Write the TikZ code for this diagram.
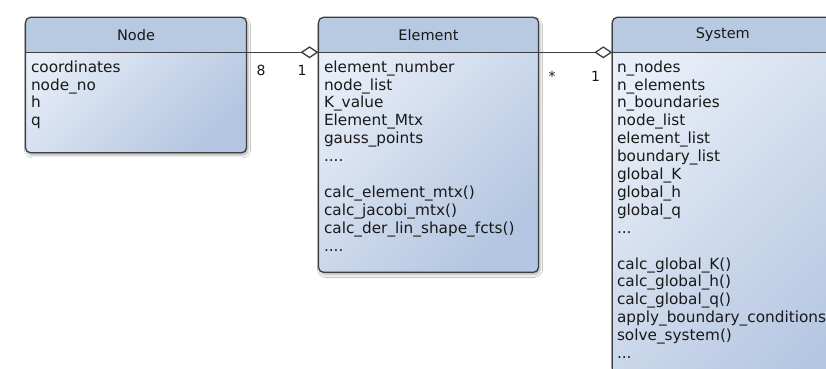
\documentclass[tikz,border=0pt]{standalone}
\usepackage{fontspec}
\setmainfont{DejaVu Sans}
\usetikzlibrary{arrows.meta,shadows.blur}
\definecolor{hdr}{RGB}{184,201,226}
\definecolor{bodyA}{RGB}{232,238,247}
\definecolor{bodyB}{RGB}{180,198,225}
\definecolor{edgec}{RGB}{62,62,62}
\definecolor{txt}{RGB}{25,25,25}
\tikzset{
  classbox/.style={line width=1.3pt, rounded corners=5pt, inner sep=0pt, outer sep=0pt,
    anchor=north west, top color=bodyA, bottom color=bodyB, shading angle=45,
    blur shadow={shadow xshift=1.5pt, shadow yshift=-2.5pt, shadow opacity=30, shadow blur steps=6, shadow blur radius=2.5pt}},
  headtext/.style={inner sep=0pt, outer sep=0pt, anchor=north west, minimum height=35pt, text=txt,
    font=\fontsize{14.5pt}{17pt}\selectfont},
  attrtext/.style={inner sep=0pt, outer sep=0pt, anchor=north west, align=left, text=txt,
    font=\fontsize{15.3pt}{17.9pt}\selectfont},
  mult/.style={inner sep=0pt, text=txt, font=\fontsize{14pt}{16pt}\selectfont},
  sepline/.style={draw=edgec, line width=1.3pt},
  border/.style={draw=edgec, line width=1.3pt, rounded corners=5pt},
  assoc/.style={draw=edgec, line width=1.3pt, -{Diamond[length=18pt, width=12pt, fill=white, line width=1.3pt]}}
}
\newcommand{\headfill}[1]{%
  \begin{scope}
    \clip[rounded corners=5pt] (#1.north west) rectangle (#1.south east);
    \fill[hdr] (#1.north west) rectangle ([yshift=-35pt]#1.north east);
  \end{scope}
  \draw[sepline] ([yshift=-35pt]#1.north west) -- ([yshift=-35pt]#1.north east);
  \draw[border] (#1.north west) rectangle (#1.south east);
}
\begin{document}
\begin{tikzpicture}[x=1pt,y=1pt]
\useasboundingbox (0,0) rectangle (826,368);
\clip (0,0) rectangle (826,368);
\fill[white] (0,0) rectangle (826,368);

% Node class
\node[classbox, minimum width=221pt, minimum height=135.5pt] (node) at (25.5,350.7) {};
\headfill{node}
\node[headtext, minimum width=221pt] (nodeH) at (node.north west) {Node};
\node[attrtext] (nodeA) at (31,307.5) {coordinates\\node\_no\\h\\q};

% Element class
\node[classbox, minimum width=220pt, minimum height=255pt] (elem) at (318.5,350.7) {};
\headfill{elem}
\node[headtext, minimum width=220pt] (elemH) at (elem.north west) {Element};
\node[attrtext] (elemA) at (324,307.5) {element\_number\\node\_list\\K\_value\\Element\_Mtx\\gauss\_points\\....\\[17.9pt]calc\_element\_mtx()\\calc\_jacobi\_mtx()\\calc\_der\_lin\_shape\_fcts()\\....};

% System class
\node[classbox, minimum width=221pt, minimum height=420pt] (sys) at (612.3,350.7) {};
\headfill{sys}
\node[headtext, minimum width=221pt] (sysH) at (sys.north west) {System};
\node[attrtext] (sysA) at (617,307.5) {n\_nodes\\n\_elements\\n\_boundaries\\node\_list\\element\_list\\boundary\_list\\global\_K\\global\_h\\global\_q\\...\\[17.9pt]calc\_global\_K()\\calc\_global\_h()\\calc\_global\_q()\\apply\_boundary\_conditions()\\solve\_system()\\...};

% associations
\draw[assoc] (nodeH.south east) -- (elemH.south west);
\draw[assoc] (elemH.south east) -- (sysH.south west);

% multiplicities
\node[mult] (m1) at (261,298) {8};
\node[mult] (m2) at (302,298) {1};
\node[mult] (m3) at (552,292) {*};
\node[mult] (m4) at (595.5,291.5) {1};
\end{tikzpicture}
\end{document}
